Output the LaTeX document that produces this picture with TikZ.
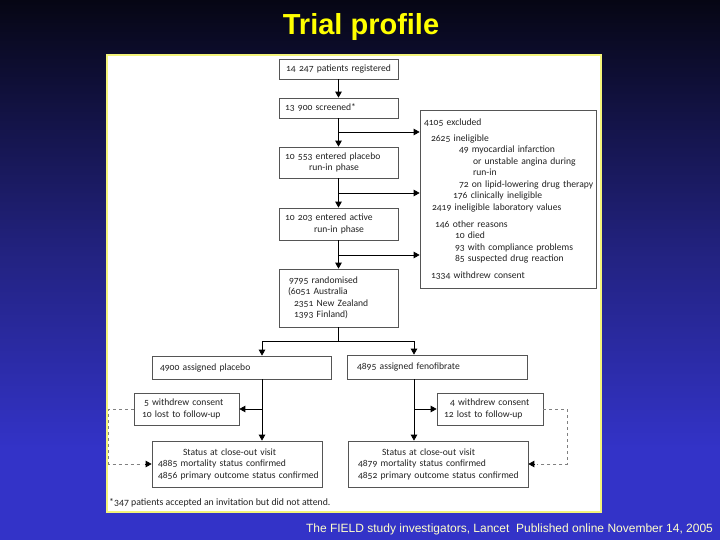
\documentclass[tikz,border=0pt]{standalone}
\usepackage{fontspec}
\setmainfont{Carlito}[Numbers=OldStyle]
\newfontfamily\arialfont{Liberation Sans}
\usetikzlibrary{arrows.meta}
\definecolor{bgtop}{HTML}{060614}
\definecolor{bgmid}{HTML}{22227F}
\definecolor{bgbot}{HTML}{3333C8}
\definecolor{boxgray}{HTML}{555555}
\definecolor{txtgray}{HTML}{222222}
\definecolor{titleyellow}{HTML}{FFFF00}
\definecolor{citeyellow}{HTML}{FFFFCC}
\definecolor{paneledge}{HTML}{F4F47A}
\begin{document}
\begin{tikzpicture}[x=1pt,y=-1pt,
  box/.style={draw=boxgray, line width=0.7pt, fill=white, text=txtgray,
    font=\fontsize{9.6}{11.5}\selectfont, align=left, inner ysep=0pt, anchor=center,
    execute at begin node={\hyphenpenalty=10000\exhyphenpenalty=10000\hbadness=10000\hfuzz=20pt}},
  arr/.style={draw=black, line width=0.8pt, -{Triangle[length=6pt,width=6.5pt]}},
  ln/.style={draw=black, line width=0.8pt},
  dashline/.style={draw=gray, line width=0.7pt, dash pattern=on 3pt off 3pt}
]
\useasboundingbox (0,0) rectangle (720,540);
% background
\fill[top color=bgtop, bottom color=bgmid] (0,0) rectangle (720,250.5);
\fill[top color=bgmid, bottom color=bgbot] (0,250) rectangle (720,450.5);
\fill[bgbot] (0,450) rectangle (720,540);
% panel
\draw[paneledge, fill=white, line width=1.5pt] (107,55) rectangle (601,512);
% title and citation
\node[font=\arialfont\bfseries\fontsize{29}{31}\selectfont, text=titleyellow, inner sep=0pt] (title) at (361,27) {Trial profile};
\node[font=\arialfont\fontsize{12}{14}\selectfont, text=citeyellow, inner sep=0pt] (cite) at (509.5,529) {The FIELD study investigators, Lancet\ \ Published online November 14, 2005};

% boxes
\node[box, minimum width=119pt, minimum height=20pt, text width=107pt, inner xsep=6pt, align=center] (B1) at (338.5,69) {14 247 patients registered};
\node[box, minimum width=119pt, minimum height=20pt, text width=107pt, inner xsep=6pt] (B2) at (338.5,108) {13 900 screened*};
\node[box, minimum width=119pt, minimum height=31pt, text width=107pt, inner xsep=6pt] (B3) at (338.5,162.5) {10 553 entered placebo\\\hspace*{24pt}run-in phase};
\node[box, minimum width=119pt, minimum height=32pt, text width=107pt, inner xsep=6pt] (B4) at (338.5,224) {10 203 entered active\\\hspace*{29pt}run-in phase};
\node[box, minimum width=119pt, minimum height=58pt, text width=101pt, inner xsep=9pt] (B5) at (338.5,298) {\hspace*{1pt}9795 randomised\\(6051 Australia\\\hspace*{6pt}2351 New Zealand\\\hspace*{6pt}1393 Finland)};

\node[box, minimum width=176pt, minimum height=178pt, text width=168pt, inner xsep=4pt] (E) at (508,199) {\mbox{4105 excluded}\\[4.5pt]
\mbox{\hspace*{7pt}2625 ineligible}\\
\mbox{\hspace*{35pt}49 myocardial infarction}\\
\mbox{\hspace*{49pt}or unstable angina during}\\
\mbox{\hspace*{49pt}run-in}\\
\mbox{\hspace*{35pt}72 on lipid-lowering drug therapy}\\
\mbox{\hspace*{29pt}176 clinically ineligible}\\
\mbox{\hspace*{8pt}2419 ineligible laboratory values}\\[5.5pt]
\mbox{\hspace*{11pt}146 other reasons}\\
\mbox{\hspace*{31pt}10 died}\\
\mbox{\hspace*{31pt}93 with compliance problems}\\
\mbox{\hspace*{31pt}85 suspected drug reaction}\\[5.5pt]
\mbox{\hspace*{7pt}1334 withdrew consent}};

\node[box, minimum width=179pt, minimum height=23pt, text width=163pt, inner xsep=8pt] (P) at (241.5,367.5) {4900 assigned placebo};
\node[box, minimum width=180pt, minimum height=24pt, text width=160pt, inner xsep=10pt] (F) at (437,367) {4895 assigned fenofibrate};

\node[box, minimum width=105pt, minimum height=32pt, text width=89pt, inner xsep=8pt] (WL) at (186.5,409) {\hspace*{2pt}5 withdrew consent\\\mbox{10 lost to follow-up}};
\node[box, minimum width=106pt, minimum height=32pt, text width=92pt, inner xsep=7pt] (WR) at (490,409) {\hspace*{6pt}4 withdrew consent\\\mbox{12 lost to follow-up}};

\node[box, minimum width=170pt, minimum height=46pt, text width=158pt, inner xsep=6pt] (CL) at (237,464) {\mbox{\hspace*{25pt}Status at close-out visit}\\\mbox{4885 mortality status confirmed}\\\mbox{4856 primary outcome status confirmed}};
\node[box, minimum width=180pt, minimum height=46pt, text width=160pt, inner xsep=10pt] (CR) at (438,464) {\mbox{\hspace*{24pt}Status at close-out visit}\\\mbox{4879 mortality status confirmed}\\\mbox{4852 primary outcome status confirmed}};

\node[font=\fontsize{9.8}{11}\selectfont, text=txtgray, anchor=west, inner sep=0pt] (foot) at (109,503) {*347 patients accepted an invitation but did not attend.};

% main column
\draw[arr] (B1) -- (B2);
\draw[arr] (B2) -- (B3);
\draw[arr] (B3) -- (B4);
\draw[arr] (B4) -- (B5);
\coordinate (br1) at (338.5,132);
\coordinate (br2) at (338.5,193);
\coordinate (br3) at (338.5,255);
\draw[arr] (br1) -- (br1 -| E.west);
\draw[arr] (br2) -- (br2 -| E.west);
\draw[arr] (br3) -- (br3 -| E.west);
% split
\coordinate (sp) at (338.5,341);
\coordinate (spl) at (262,341);
\coordinate (spr) at (414,341);
\draw[ln] (B5.south) -- (sp);
\draw[ln] (spl) -- (spr);
\draw[arr] (spl) -- (spl |- P.north);
\draw[arr] (spr) -- (spr |- F.north);
% arms
\coordinate (pl) at (262,379);
\coordinate (fr) at (414,379);
\draw[arr] (pl) -- (pl |- CL.north);
\draw[arr] (fr) -- (fr |- CR.north);
\coordinate (wlb) at (262,409);
\coordinate (wrb) at (414,409);
\draw[arr] (wlb) -- (WL.east);
\draw[arr] (wrb) -- (WR.west);
% dashed loops
\draw[dashline] (WL.west) -- ++(-25,0) coordinate (dl) -- (dl |- CL.west) -- ([xshift=-9pt]CL.west);
\draw[arr] ([xshift=-7pt]CL.west) -- (CL.west);
\draw[dashline] (WR.east) -- ++(24,0) coordinate (dr) -- (dr |- CR.east) -- ([xshift=9pt]CR.east);
\draw[arr] ([xshift=7pt]CR.east) -- (CR.east);
\end{tikzpicture}
\end{document}
